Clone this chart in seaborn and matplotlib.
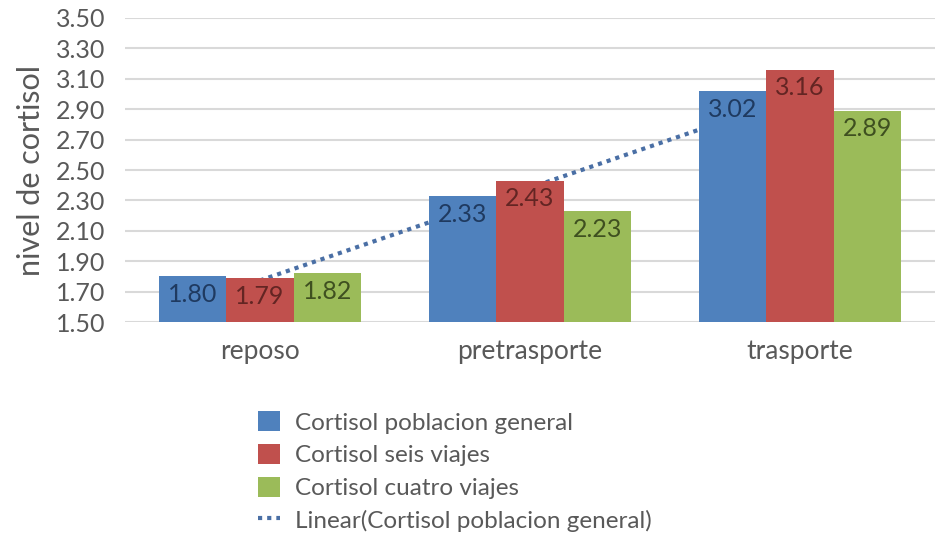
import numpy as np
import pandas as pd
import matplotlib
matplotlib.use("Agg")
import matplotlib.pyplot as plt
import seaborn as sns
from matplotlib.patches import Patch
from matplotlib.lines import Line2D

categories = ["reposo", "pretrasporte", "trasporte"]
series_names = ["Cortisol poblacion general", "Cortisol seis viajes", "Cortisol cuatro viajes"]
general = [1.80, 2.33, 3.02]
seis = [1.79, 2.43, 3.16]
cuatro = [1.82, 2.23, 2.89]
yticks = [1.50, 1.70, 1.90, 2.10, 2.30, 2.50, 2.70, 2.90, 3.10, 3.30, 3.50]

colors = ["#4F81BD", "#C0504D", "#9BBB59"]
label_colors = ["#1F3A60", "#632523", "#3F5020"]
text_gray = "#595959"

df = pd.DataFrame({
    "categoria": categories * 3,
    "serie": [s for s in series_names for _ in categories],
    "valor": general + seis + cuatro,
})

sns.set_style("white")
plt.rcParams["font.family"] = ["Lato", "DejaVu Sans"]

fig = plt.figure(figsize=(9.38, 5.44), dpi=100)
ax = fig.add_axes([0.133, 0.408, 0.864, 0.559])

sns.barplot(data=df, x="categoria", y="valor", hue="serie", palette=colors,
            width=0.75, saturation=1, legend=False, linewidth=0, ax=ax, zorder=3)

# linear trend of the general population series
xs = np.arange(len(categories))
slope, intercept = np.polyfit(xs, general, 1)
ax.plot(xs, slope * xs + intercept, color="#4A6FA5", linestyle=(0, (1, 1.2)),
        linewidth=3, zorder=2)

for container, lc in zip(ax.containers, label_colors):
    for bar in container:
        h = bar.get_height()
        ax.text(bar.get_x() + bar.get_width() / 2, h - 0.12, f"{h:.2f}",
                ha="center", va="center", fontsize=18, color=lc, zorder=4)

ax.set_ylim(1.5, 3.5)
ax.set_yticks(yticks)
ax.set_yticklabels([f"{t:.2f}" for t in yticks])
ax.set_xlim(-0.5, 2.5)
ax.yaxis.grid(True, color="#D9D9D9", linewidth=1.5, zorder=0)
ax.set_axisbelow(True)
for s in ax.spines.values():
    s.set_visible(False)
ax.tick_params(axis="y", length=0, labelsize=18, colors=text_gray, pad=14)
ax.tick_params(axis="x", length=0, labelsize=19, colors=text_gray, pad=12)
ax.set_xlabel("")
ax.set_ylabel("nivel de cortisol", fontsize=22, color=text_gray, labelpad=8)

handles = [Patch(facecolor=c, edgecolor="none") for c in colors]
handles.append(Line2D([0], [0], color="#4A6FA5", linestyle=(0, (1, 1.2)), linewidth=3))
fig.legend(handles, series_names + ["Linear(Cortisol poblacion general)"],
           loc="upper left", bbox_to_anchor=(0.265, 0.262), frameon=False,
           fontsize=17.5, labelcolor=text_gray, handlelength=0.9, handleheight=0.9,
           handletextpad=0.6, labelspacing=0.42, borderaxespad=0)

fig.savefig("out.png", dpi=100)
